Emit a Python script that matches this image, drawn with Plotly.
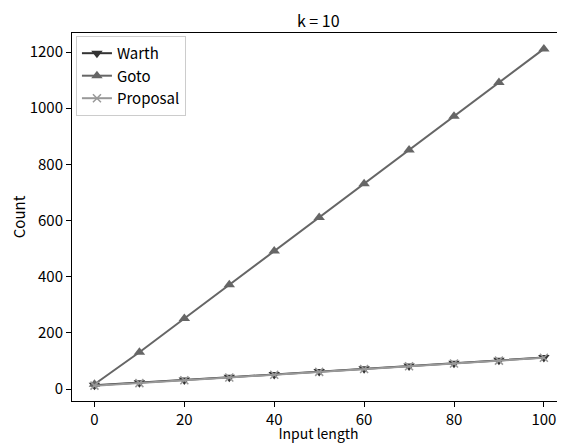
import plotly.graph_objects as go

input_length = [0, 10, 20, 30, 40, 50, 60, 70, 80, 90, 100]
warth = [13, 22, 32, 42, 52, 62, 72, 82, 92, 102, 112]
goto = [17, 131, 251, 371, 491, 611, 731, 851, 971, 1091, 1211]
proposal = [12, 21, 31, 41, 51, 61, 71, 81, 91, 101, 111]

FONT = "Noto Sans CJK JP"
FS = 15

# the page body has an 8px default margin, so the figure is 8px smaller
fig = go.Figure()
fig.add_trace(go.Scatter(x=input_length, y=warth, name="Warth", mode="lines+markers",
                         line=dict(color="#333333", width=2),
                         marker=dict(symbol="triangle-down", size=10, color="#333333")))
fig.add_trace(go.Scatter(x=input_length, y=goto, name="Goto", mode="lines+markers",
                         line=dict(color="#666666", width=2),
                         marker=dict(symbol="triangle-up", size=10, color="#666666")))
fig.add_trace(go.Scatter(x=input_length, y=proposal, name="Proposal", mode="lines+markers",
                         line=dict(color="#999999", width=2),
                         marker=dict(symbol="x-thin", size=8, color="#999999",
                                     line=dict(color="#999999", width=1.5))))

fig.update_layout(
    width=557, height=435,
    margin=dict(l=64, r=0, t=25, b=42, autoexpand=False),
    paper_bgcolor="white", plot_bgcolor="white",
    font=dict(family=FONT, size=FS, color="black"),
    title=dict(text="k = 10", x=0.557, xanchor="center", y=0.969, yanchor="middle",
               font=dict(family=FONT, size=16, color="black")),
    showlegend=True,
    legend=dict(x=0.008, y=0.992, xanchor="left", yanchor="top",
                bgcolor="rgba(255,255,255,0.8)", bordercolor="#cccccc", borderwidth=1,
                font=dict(family=FONT, size=FS, color="black"), tracegroupgap=0,
                itemwidth=30),
    xaxis=dict(range=[-5, 104.7], tickvals=[0, 20, 40, 60, 80, 100], automargin=False,
               showgrid=False, zeroline=False, showline=True, linecolor="black", linewidth=1,
               mirror=True, ticks="outside", ticklen=5, tickcolor="black",
               tickfont=dict(family=FONT, size=FS),
               title=dict(text="Input length", font=dict(family=FONT, size=14), standoff=4)),
    yaxis=dict(range=[-42.7, 1267.7], tickvals=[0, 200, 400, 600, 800, 1000, 1200], automargin=False,
               showgrid=False, zeroline=False, showline=True, linecolor="black", linewidth=1,
               mirror=True, ticks="outside", ticklen=5, tickcolor="black",
               tickfont=dict(family=FONT, size=FS),
               title=dict(text="Count", font=dict(family=FONT, size=FS), standoff=6)),
)

fig.write_html("out.html")
